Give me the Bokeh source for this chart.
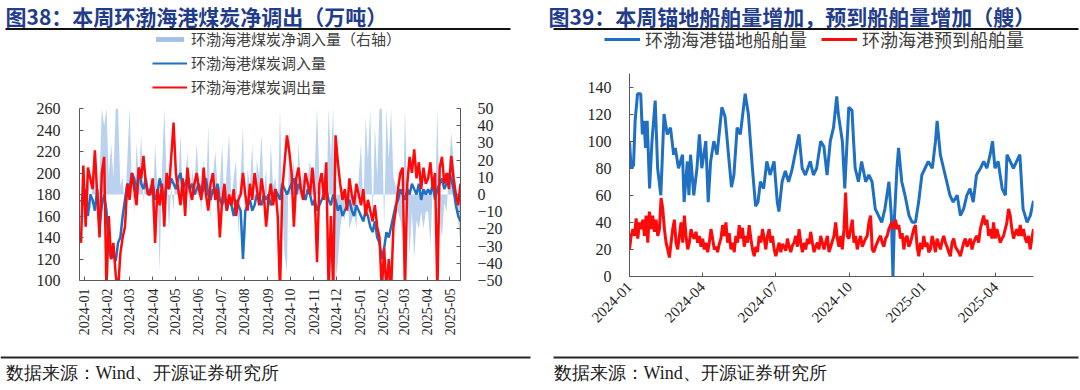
import pandas as pd
from math import pi
from bokeh.plotting import figure
from bokeh.models import (Range1d, LinearAxis, FixedTicker, DatetimeTickFormatter,
                          Legend, LegendItem, ColumnDataSource)
from bokeh.layouts import row, column
from bokeh.embed import file_html
from bokeh.resources import INLINE
from bokeh.core.properties import value

# ---------------- texts ----------------
TITLE_L = "图38：本周环渤海港煤炭净调出（万吨）"
TITLE_R = "图39：本周锚地船舶量增加，预到船舶量增加（艘）"
SOURCE = "数据来源：Wind、开源证券研究所"
LEG_NET = "环渤海港煤炭净调入量（右轴）"
LEG_IN = "环渤海港煤炭调入量"
LEG_OUT = "环渤海港煤炭调出量"
LEG_ANCHOR = "环渤海港锚地船舶量"
LEG_ARRIVE = "环渤海港预到船舶量"

# ---------------- left chart data (evenly spaced dates) ----------------
left_start = "2023-12-28"
left_end = "2025-05-15"
left_out = [
    135, 207, 150, 205, 195, 185, 221, 180, 140, 200,
    215, 90, 160, 120, 135, 105, 90, 125, 140, 150,
    190, 175, 200, 185, 170, 205, 195, 216, 190, 180,
    180, 195, 135, 185, 170, 190, 150, 200, 185, 215,
    247, 200, 185, 170, 195, 160, 205, 185, 175, 190,
    200, 185, 175, 205, 180, 165, 190, 200, 175, 185,
    140, 175, 190, 165, 180, 170, 185, 160, 175, 180,
    200, 180, 165, 190, 175, 200, 185, 170, 195, 180,
    150, 175, 190, 170, 185, 160, 90, 185, 210, 235,
    220, 200, 150, 195, 205, 185, 175, 200, 190, 180,
    205, 180, 117, 190, 200, 175, 210, 90, 160, 90,
    235, 210, 190, 175, 185, 165, 195, 180, 170, 190,
    180, 170, 185, 160, 175, 165, 155, 170, 150, 140,
    90, 130, 90, 120, 90, 150, 165, 185, 200, 205,
    90, 190, 215, 200, 222, 195, 210, 185, 205, 190,
    195, 210, 185, 200, 90, 205, 215, 190, 200, 185,
    216, 195, 180, 170, 190,
]
left_in = [
    175, 170, 185, 160, 180, 175, 165, 185, 150, 170,
    180, 165, 130, 120, 125, 118, 135, 140, 160, 175,
    190, 185, 200, 195, 180, 205, 190, 185, 195, 180,
    185, 190, 175, 180, 195, 185, 175, 190, 185, 195,
    190, 185, 195, 200, 185, 190, 195, 185, 190, 180,
    185, 190, 180, 185, 195, 180, 175, 185, 180, 190,
    175, 170, 180, 165, 175, 170, 160, 175, 170, 165,
    120, 165, 170, 175, 165, 170, 180, 175, 170, 180,
    175, 180, 170, 175, 185, 180, 175, 190, 185, 180,
    185, 190, 195, 180, 190, 185, 180, 175, 185, 180,
    170, 175, 165, 170, 175, 180, 185, 175, 170, 180,
    175, 165, 170, 160, 165, 170, 175, 165, 160, 170,
    165, 160, 155, 165, 160, 150, 145, 155, 140, 135,
    120, 130, 145, 140, 150, 160, 170, 175, 185, 180,
    175, 185, 180, 190, 185, 180, 190, 175, 185, 180,
    185, 180, 190, 175, 185, 190, 195, 185, 190, 200,
    195, 185, 170, 160, 155,
]
left_net = [
    -30, 10, -5, 15, -10, 5, 20, -15, 10, 50,
    40, 50, 10, 30, 10, 50, 50, 5, 10, -10,
    20, 50, 5, -10, 30, 10, 35, -5, 15, 0,
    10, -15, 30, 5, -45, 15, 50, 10, -20, 5,
    -10, 20, 5, 35, -5, 10, 25, -10, 15, 5,
    30, 5, -10, 20, 0, 40, -15, 10, 25, 5,
    5, 30, -10, 15, 35, -5, 10, 20, -25, 10,
    40, -30, 15, 5, 30, -10, 20, 10, 35, 0,
    15, -20, 30, 5, 10, -10, 50, -10, -35, -45,
    40, 10, 20, -10, 30, 5, 15, -5, 10, 20,
    5, 15, 50, 10, -5, 20, -10, 50, 20, 50,
    -50, -40, -20, -10, -15, 5, -20, -15, -10, -20,
    10, 30, -10, 45, 20, 50, -15, 40, 10, 50,
    50, -20, 50, 20, 50, 10, 5, -10, -15, -25,
    50, -5, -35, -10, -37, -15, -20, -10, -20, -10,
    -10, -30, 5, -5, 50, -15, -25, -5, -10, 15,
    36, 20, 5, -15, -30,
]
left_ticks = ["2024-01", "2024-02", "2024-03", "2024-04", "2024-05", "2024-06",
              "2024-07", "2024-08", "2024-09", "2024-10", "2024-11", "2024-12",
              "2025-01", "2025-02", "2025-03", "2025-04", "2025-05"]
left_y_ticks = [100, 120, 140, 160, 180, 200, 220, 240, 260]
left_y2_ticks = [-50, -40, -30, -20, -10, 0, 10, 20, 30, 40, 50]

# ---------------- right chart data ----------------
right_start = "2024-01-01"
right_end = "2025-05-18"
right_arrive = [
    20, 30, 35, 30, 43, 28, 40, 35, 42, 30,
    45, 25, 48, 35, 45, 33, 42, 30, 35, 58,
    50, 35, 25, 20, 14, 25, 35, 42, 25, 20,
    30, 40, 25, 45, 30, 20, 25, 35, 30, 28,
    33, 25, 30, 22, 28, 20, 25, 18, 25, 35,
    28, 20, 22, 18, 24, 28, 38, 30, 40, 25,
    32, 20, 25, 18, 30, 25, 38, 28, 36, 22,
    30, 25, 38, 28, 20, 15, 22, 18, 30, 25,
    35, 28, 20, 30, 35, 25, 30, 20, 15, 20,
    25, 18, 24, 22, 19, 28, 22, 18, 23, 25,
    30, 22, 35, 25, 18, 25, 20, 28, 24, 33,
    25, 18, 22, 25, 20, 30,
    25, 20, 25, 30, 18, 22, 26, 30, 40, 28,
    22, 30, 20, 35, 62, 30, 28, 35, 42, 25,
    30, 20, 26, 30, 22, 25, 28, 30, 40, 45,
    20, 18, 22, 25, 28, 30, 25, 22, 28, 30,
    35, 38, 40, 35, 42, 35, 38, 28, 32, 20,
    28, 30, 22, 25, 30, 35, 38, 22, 15, 25,
    20, 30, 22, 25, 18, 20, 30, 25, 18, 28,
    24, 20, 26, 30, 25, 22, 18, 15, 25, 28,
    22, 20, 18, 15, 20, 25, 28, 22, 25, 28,
    20, 25, 28, 30, 25, 35, 40, 45, 38, 42,
    30, 35, 28, 40, 28, 35, 30, 25, 28, 30,
    35, 40, 50, 45, 35, 28, 32, 35, 30, 38,
    30, 35, 28, 25, 30, 20, 28, 35,
]
right_anchor_day = [
    0, 2, 5, 7, 10, 14, 16, 18, 20, 22, 25, 28, 32, 35, 39, 43, 47, 51, 55, 57,
    61, 66, 68, 72, 74, 76, 80, 84, 87, 90, 95, 98, 101, 105, 109, 115, 119, 121, 124, 127,
    130, 134, 138, 144, 148, 153, 157, 160, 163, 167, 171, 175, 180, 184, 186, 190, 194, 198, 202, 206,
    211, 215, 219, 225, 229, 233, 238, 242, 246, 250, 254, 258, 260, 265, 268, 273, 277, 279, 281, 285,
    289, 294, 298, 302, 306, 310, 314, 318, 323, 326, 328, 330, 333, 335, 339, 343, 348, 352, 356, 360,
    364, 368, 372, 377, 381, 383, 387, 391, 395, 399, 403, 408, 412, 416, 420, 424, 428, 432, 437, 441,
    445, 449, 452, 455, 459, 464, 468, 470, 474, 478, 482, 486, 488, 490, 495, 499, 503,
]
right_anchor = [
    100, 80, 82, 115, 135, 135, 105, 115, 95, 115, 65, 100, 130, 80, 60, 120, 105, 110, 90, 95,
    80, 90, 55, 85, 60, 90, 60, 80, 105, 80, 100, 55, 85, 100, 90, 125, 118, 105, 85, 66,
    75, 110, 105, 135, 120, 80, 52, 55, 70, 65, 85, 75, 85, 55, 48, 70, 78, 70, 78, 90,
    105, 80, 75, 85, 75, 80, 100, 96, 75, 100, 110, 133, 120, 100, 65, 125, 123, 100, 80, 70,
    85, 70, 75, 70, 50, 45, 40, 50, 70, 45, 0, 45, 80, 95, 70, 60, 45, 40, 40, 55,
    75, 80, 85, 80, 100, 115, 90, 80, 70, 60, 55, 60, 45, 50, 60, 65, 55, 75, 80, 85,
    80, 90, 100, 80, 85, 65, 60, 90, 85, 80, 85, 90, 70, 50, 40, 45, 56,
]
right_ticks = ["2024-01", "2024-04", "2024-07", "2024-10", "2025-01", "2025-04"]
right_y_ticks = [0, 20, 40, 60, 80, 100, 120, 140]

# ---------------- styles ----------------
TITLE_COLOR = "#1F3D8C"
AX_COLOR = "#595959"
LABEL_COLOR = "#262626"
LEG_COLOR = "#404040"
BLUE = "#1F6FC2"
RED = "#FF0A0A"
LIGHT = "#9CBFE6"
CJK = "Noto Sans CJK SC"
SERIF = "Liberation Serif"
PANEL_W = 540


def ms(s):
    return pd.Timestamp(s).value / 1e6


def style_axis(ax, size, standoff):
    ax.axis_line_color = AX_COLOR
    ax.major_tick_line_color = AX_COLOR
    ax.major_tick_in = 4
    ax.major_tick_out = 0
    ax.minor_tick_line_color = None
    ax.major_label_text_font = SERIF
    ax.major_label_text_font_size = size
    ax.major_label_text_color = LABEL_COLOR
    ax.major_label_standoff = standoff


def date_formatter():
    return DatetimeTickFormatter(days="%Y-%m", months="%Y-%m", years="%Y-%m")


def band(height, text, text_x, text_y, font, size, bold, color, lx0, lx1, ly, lw, lc):
    f = figure(width=PANEL_W, height=height, x_range=Range1d(0, PANEL_W),
               y_range=Range1d(0, height), x_axis_type=None, y_axis_type=None,
               output_backend="svg", toolbar_location=None, min_border=0)
    f.frame_align = False
    f.grid.visible = False
    f.outline_line_color = None
    f.text(x=[text_x], y=[text_y], text=[text], text_font=value(font),
           text_font_size=size, text_font_style="bold" if bold else "normal",
           text_color=color, text_baseline="middle", text_align="left")
    f.segment(x0=[lx0], y0=[ly], x1=[lx1], y1=[ly], line_color=lc, line_width=lw)
    return f


# legend key renderers sit outside the visible header range
KEY_X = [-20, -10]
KEY_Y = [-20, -20]

# ---------------- headers with legends ----------------
H1 = 100
h1 = band(H1, TITLE_L, 5, H1 - 15, CJK, "21px", True, TITLE_COLOR, 5, 510, H1 - 28.5, 2, "#111111")
k_net = h1.varea(x=KEY_X, y1=KEY_Y, y2=[-15, -15], fill_color=LIGHT, fill_alpha=0.95)
k_in = h1.line(x=KEY_X, y=KEY_Y, line_color=BLUE, line_width=2)
k_out = h1.line(x=KEY_X, y=KEY_Y, line_color=RED, line_width=2)
leg1 = Legend(items=[LegendItem(label=LEG_NET, renderers=[k_net]),
                     LegendItem(label=LEG_IN, renderers=[k_in]),
                     LegendItem(label=LEG_OUT, renderers=[k_out])],
              location=(152, 3), orientation="vertical",
              border_line_color=None, background_fill_alpha=0,
              padding=0, margin=0, spacing=3, label_height=19,
              glyph_height=6, glyph_width=35, label_standoff=4,
              label_text_font=CJK, label_text_font_size="15px",
              label_text_color=LEG_COLOR)
h1.add_layout(leg1)

H2 = 60
h2 = band(H2, TITLE_R, 8, H2 - 15, CJK, "21px", True, TITLE_COLOR, 13, 538, H2 - 28.5, 2, "#111111")
k_anc = h2.line(x=KEY_X, y=KEY_Y, line_color=BLUE, line_width=3)
k_arr = h2.line(x=KEY_X, y=KEY_Y, line_color=RED, line_width=3)
leg2 = Legend(items=[LegendItem(label=LEG_ANCHOR, renderers=[k_anc]),
                     LegendItem(label=LEG_ARRIVE, renderers=[k_arr])],
              location=(64, 8), orientation="horizontal",
              border_line_color=None, background_fill_alpha=0,
              padding=0, margin=0, spacing=14, label_height=18,
              glyph_height=18, glyph_width=36, label_standoff=5,
              label_text_font=CJK, label_text_font_size="18px",
              label_text_color=LEG_COLOR)
h2.add_layout(leg2)

# ---------------- left panel ----------------
lx = pd.date_range(left_start, left_end, periods=len(left_out))
lsrc = ColumnDataSource(dict(x=lx, out=left_out, inn=left_in, net=left_net))

p1 = figure(width=PANEL_W, height=352 - H1, x_axis_type="datetime",
            x_range=Range1d(ms("2023-12-26"), ms("2025-05-15")),
            y_range=Range1d(100, 260), output_backend="svg", toolbar_location=None,
            min_border_left=79, min_border_right=80, min_border_top=108 - H1,
            min_border_bottom=72)
p1.frame_align = False
p1.extra_y_ranges = {"net": Range1d(-50, 50)}
p1.grid.visible = False
p1.outline_line_color = None

p1.varea(x="x", y1=0, y2="net", source=lsrc, y_range_name="net",
         fill_color=LIGHT, fill_alpha=0.7)
p1.line(x="x", y="inn", source=lsrc, line_color=BLUE, line_width=2.5)
p1.line(x="x", y="out", source=lsrc, line_color=RED, line_width=2.5)

p1.yaxis.ticker = FixedTicker(ticks=left_y_ticks)
p1.xaxis.ticker = FixedTicker(ticks=[ms(t + "-01") for t in left_ticks])
p1.xaxis.formatter = date_formatter()
p1.xaxis.major_label_orientation = pi / 2
ax2 = LinearAxis(y_range_name="net", ticker=FixedTicker(ticks=left_y2_ticks))
p1.add_layout(ax2, "right")
style_axis(p1.yaxis[0], "16px", 19)
style_axis(ax2, "16px", 17)
style_axis(p1.xaxis[0], "14px", 8)

# ---------------- right panel ----------------
rx_arr = pd.date_range(right_start, right_end, periods=len(right_arrive))
rx_anc = pd.Timestamp(right_start) + pd.to_timedelta(right_anchor_day, unit="D")
src_arr = ColumnDataSource(dict(x=rx_arr, y=right_arrive))
src_anc = ColumnDataSource(dict(x=rx_anc, y=right_anchor))

p2 = figure(width=PANEL_W, height=352 - H2, x_axis_type="datetime",
            x_range=Range1d(ms(right_start), ms(right_end)),
            y_range=Range1d(0, 150), output_backend="svg", toolbar_location=None,
            min_border_left=89, min_border_right=47, min_border_top=73 - H2,
            min_border_bottom=76)
p2.frame_align = False
p2.grid.visible = False
p2.outline_line_color = None
p2.line(x="x", y="y", source=src_anc, line_color=BLUE, line_width=3)
p2.line(x="x", y="y", source=src_arr, line_color=RED, line_width=3)
p2.yaxis.ticker = FixedTicker(ticks=right_y_ticks)
p2.xaxis.ticker = FixedTicker(ticks=[ms(t + "-01") for t in right_ticks])
p2.xaxis.formatter = date_formatter()
p2.xaxis.major_label_orientation = pi / 4
style_axis(p2.yaxis[0], "16px", 18)
style_axis(p2.xaxis[0], "15px", 8)

# ---------------- footers ----------------
f1 = band(36, SOURCE, 5, 16, SERIF, "18px", False, "#1A1A1A", 0, 530, 31, 2, "#262626")
f2 = band(36, SOURCE, 13, 16, SERIF, "18px", False, "#1A1A1A", 13, 538, 31, 2, "#262626")

layout = row(column(h1, p1, f1), column(h2, p2, f2))
open("out.html", "w").write(file_html(layout, INLINE))
